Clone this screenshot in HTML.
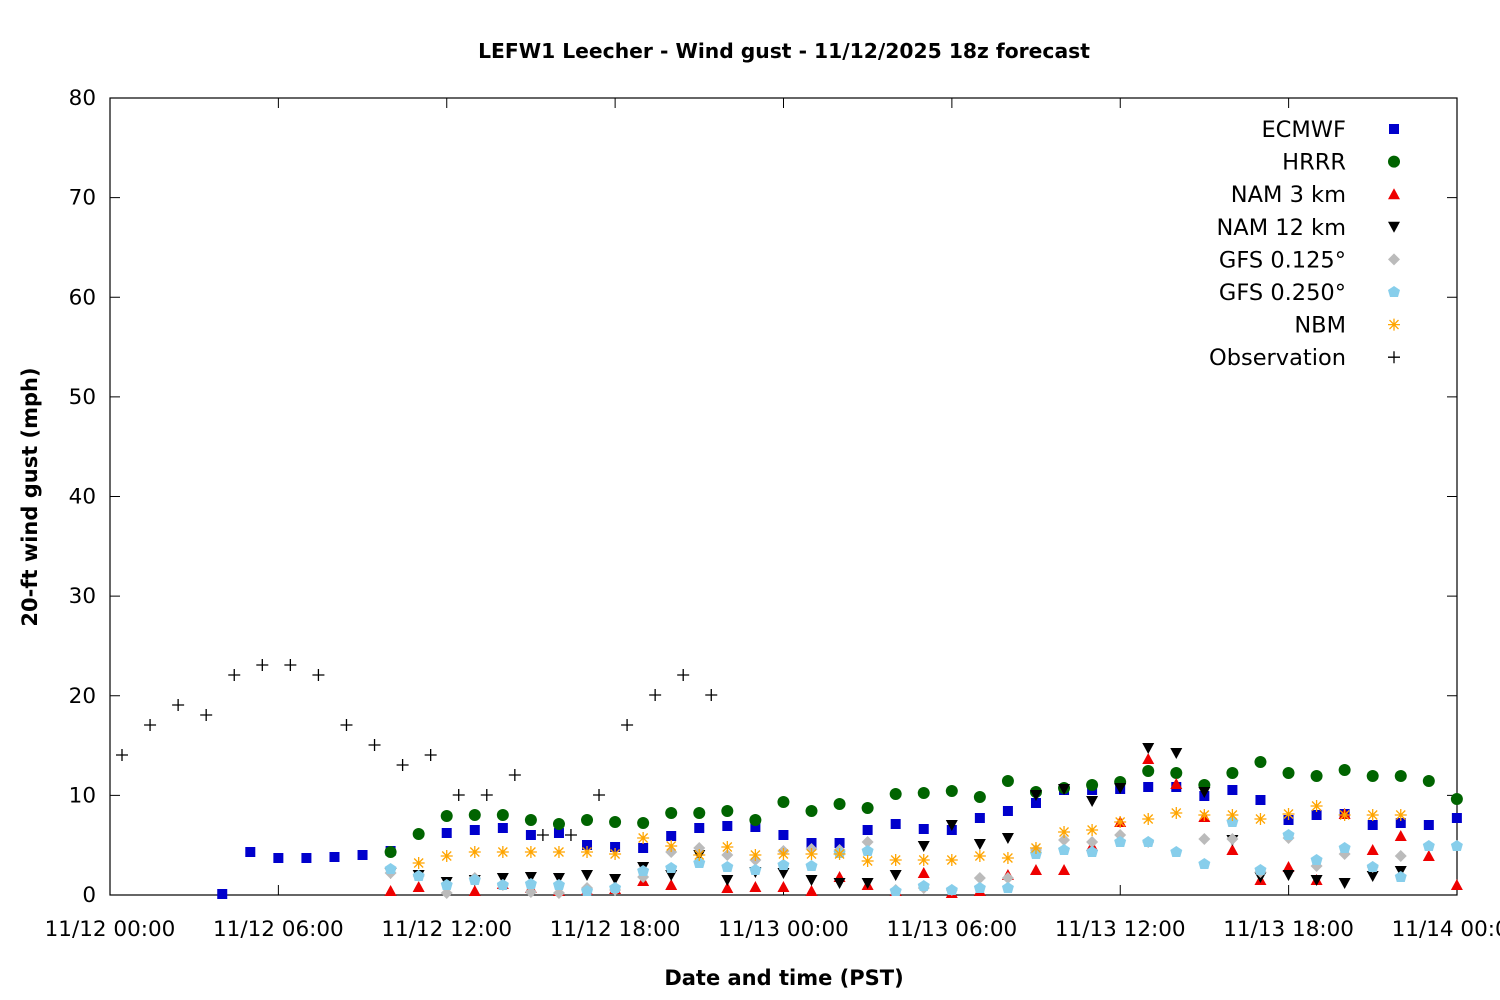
<!DOCTYPE html>
<html><head><meta charset="utf-8"><style>body{margin:0;background:#fff}svg{display:block}text{font-family:"DejaVu Sans","Liberation Sans",sans-serif}</style></head><body>
<svg id="s" width="1500" height="1000" xmlns="http://www.w3.org/2000/svg">
<rect width="1500" height="1000" fill="#fff"/>
<text x="784" y="58" text-anchor="middle" font-size="20.3" font-weight="bold">LEFW1 Leecher - Wind gust - 11/12/2025 18z forecast</text>
<rect x="110" y="98" width="1347" height="797" fill="none" stroke="#000" stroke-width="1.2"/>
<g id="ax" font-size="21.5"></g>
<text x="784" y="985" text-anchor="middle" font-size="21" font-weight="bold">Date and time (PST)</text>
<text transform="translate(37,497) rotate(-90)" text-anchor="middle" font-size="21" font-weight="bold">20-ft wind gust (mph)</text>
<g id="pts"></g>
</svg>
<script>
const NS="http://www.w3.org/2000/svg",ax=document.getElementById('ax'),P=document.getElementById('pts');
function el(t,a,p,txt){const e=document.createElementNS(NS,t);for(const k in a)e.setAttribute(k,a[k]);if(txt!==undefined)e.textContent=txt;(p||P).appendChild(e);return e;}
for(let i=0;i<=8;i++){const y=895-i*99.625;el('text',{x:96,y:y+7,'text-anchor':'end'},ax,String(i*10));
if(i>0&&i<8){el('line',{x1:110,y1:y,x2:120,y2:y,stroke:'#000'},ax);el('line',{x1:1447,y1:y,x2:1457,y2:y,stroke:'#000'},ax);}}
const labs=['11/12 00:00','11/12 06:00','11/12 12:00','11/12 18:00','11/13 00:00','11/13 06:00','11/13 12:00','11/13 18:00','11/14 00:00'];
labs.forEach((l,i)=>{const x=110+i*168.375;el('text',{x:x,y:936,'text-anchor':'middle'},ax,l);if(i>0&&i<8){el('line',{x1:x,y1:895,x2:x,y2:885,stroke:'#000'},ax);el('line',{x1:x,y1:98,x2:x,y2:108,stroke:'#000'},ax);}});
const X=h=>110+h*28.06;
function sq(x,y){el('rect',{x:x-5,y:y-5,width:10,height:10,fill:'#0000cc'});}
function ci(x,y){el('circle',{cx:x,cy:y,r:6,fill:'#006400'});}
function tu(x,y){el('polygon',{points:`${x-6},${y+5} ${x+6},${y+5} ${x},${y-6}`,fill:'#ee0000'});}
function td(x,y){el('polygon',{points:`${x-6},${y-5} ${x+6},${y-5} ${x},${y+6}`,fill:'#000'});}
function di(x,y){el('polygon',{points:`${x-6},${y} ${x},${y-6} ${x+6},${y} ${x},${y+6}`,fill:'#bbb'});}
function pe(x,y){el('polygon',{points:`${x},${y-6} ${x+6},${y-2} ${x+4},${y+5} ${x-4},${y+5} ${x-6},${y-2}`,fill:'#87ceeb'});}
function st(x,y){const g=`M${x-6} ${y}H${x+6}M${x} ${y-6}V${y+6}M${x-4.5} ${y-4.5}L${x+4.5} ${y+4.5}M${x-4.5} ${y+4.5}L${x+4.5} ${y-4.5}`;el('path',{d:g,stroke:'#ffa500','stroke-width':1.3,fill:'none'});}
function pl(x,y){el('path',{d:`M${x-6} ${y}H${x+6}M${x} ${y-6}V${y+6}`,stroke:'#000','stroke-width':1.3});}
function ser(f,start,arr){arr.forEach((y,i)=>{if(y)f(X(start+i),y);});}
ser(sq,4,[894,852,858,858,857,855,851,0,833,830,828,835,833,845,847,848,836,828,826,827,835,843,843,830,824,829,830,818,811,803,790,790,789,787,787,796,790,800,820,815,814,825,823,825,818]);
ser(ci,10,[852,834,816,815,815,820,824,820,822,823,813,813,811,820,802,811,804,808,794,793,791,797,781,792,788,785,782,771,773,785,773,762,773,776,770,776,776,781,799]);
ser(tu,10,[891,887,0,891,884,888,891,890,889,881,885,0,888,887,887,891,877,885,891,873,893,891,875,870,870,846,822,759,784,817,850,880,867,880,814,850,836,856,885]);
ser(td,10,[873,875,882,880,878,877,878,875,879,867,875,855,880,872,873,880,883,883,875,846,825,844,838,795,789,801,788,748,753,792,840,877,875,880,883,876,871,0,0]);
ser(di,10,[873,876,893,878,885,892,893,888,890,877,852,848,855,860,851,849,850,842,890,888,890,878,878,850,840,842,835,842,0,839,839,872,838,866,854,867,856,0,0]);
ser(pe,10,[869,876,885,880,885,884,885,891,888,871,868,863,867,870,865,866,853,851,891,886,890,888,888,854,850,852,842,842,852,864,822,870,835,860,848,867,877,846,846]);
ser(st,10,[0,863,856,852,852,852,852,852,854,838,846,855,847,855,854,854,854,861,860,860,860,856,858,848,832,830,822,819,813,815,815,819,814,806,815,815,815,0,0]);
[755,725,705,715,675,665,665,675,725,745,765,755,795,795,775,835,835,795,725,695,675,695].forEach((y,i)=>pl(122+i*28.06,y));
const L=[['ECMWF',sq],['HRRR',ci],['NAM 3 km',tu],['NAM 12 km',td],['GFS 0.125°',di],['GFS 0.250°',pe],['NBM',st],['Observation',pl]];
L.forEach((l,i)=>{const y=129+i*32.6;el('text',{x:1346,y:y+8,'text-anchor':'end','font-size':22.5},ax,l[0]);l[1](1394,y);});
</script>
</body></html>
